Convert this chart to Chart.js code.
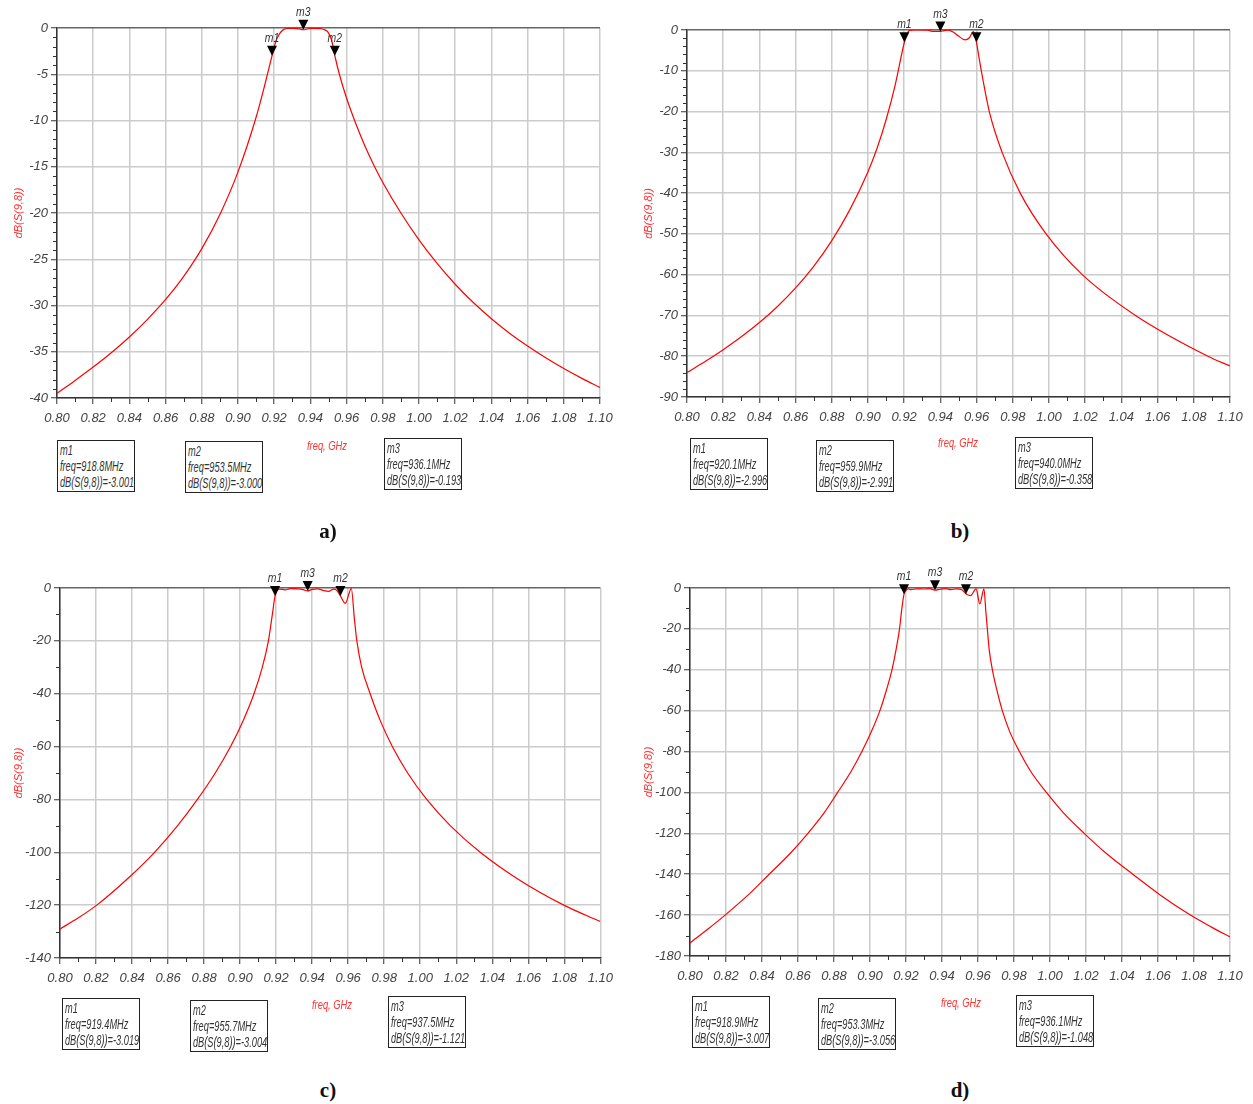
<!DOCTYPE html>
<html>
<head>
<meta charset="utf-8">
<script src="https://cdn.jsdelivr.net/npm/chart.js@4.4.1/dist/chart.umd.min.js"></script>
<style>
  body { margin: 0; background: #fff; }
  #page { position: relative; width: 1253px; height: 1104px; background: #fff; overflow: hidden; }
  canvas { position: absolute; }
  .box { position: absolute; border: 1px solid #222; box-sizing: border-box; width: 78px; height: 52px; overflow: hidden; }
  .box span { display: block; transform: scaleX(0.66); transform-origin: 0 0; padding: 1px 0 0 3px; white-space: nowrap;
              font: italic 14px 'Liberation Sans', Arial, sans-serif; line-height: 16px; color: #333; }
  .xlab { position: absolute; font: italic 13px 'Liberation Sans', Arial, sans-serif; color: #ff3030; white-space: nowrap;
          transform: translate(-50%, -50%) scaleX(0.72); }
  .cap { position: absolute; font: bold 21px 'Liberation Serif', 'Times New Roman', serif; color: #111; transform: translate(-50%, -50%); }
</style>
</head>
<body>
<div id="page">
  <canvas id="chA" width="620" height="440" style="left:0;top:0"></canvas>
  <canvas id="chB" width="620" height="440" style="left:630px;top:0"></canvas>
  <canvas id="chC" width="620" height="440" style="left:0;top:560px"></canvas>
  <canvas id="chD" width="620" height="440" style="left:630px;top:560px"></canvas>
</div>
<script>
// frequency axis (GHz)
const xMin = 0.80, xMax = 1.10, xStep = 0.02, xMinorStep = 0.01;

// a)
const freqA = [0.800, 0.810, 0.820, 0.830, 0.840, 0.850, 0.860, 0.870, 0.880, 0.890, 0.900, 0.910, 0.915, 0.9188, 0.921, 0.923, 0.925, 0.927, 0.931, 0.934, 0.936, 0.939, 0.942, 0.946, 0.948, 0.9497, 0.9517, 0.9535, 0.956, 0.960, 0.965, 0.970, 0.975, 0.980, 0.990, 1.000, 1.010, 1.020, 1.030, 1.040, 1.050, 1.060, 1.070, 1.080, 1.090, 1.100];
const dbA   = [-39.5, -38.1, -36.65, -35.1, -33.4, -31.5, -29.35, -26.85, -23.85, -20.15, -15.55, -9.65, -6.0, -3.0, -1.4, -0.6, -0.2, -0.05, -0.03, -0.1, -0.19, -0.08, -0.04, -0.08, -0.2, -0.45, -1.3, -3.0, -5.0, -7.6, -10.3, -12.7, -14.8, -16.7, -20.0, -22.9, -25.45, -27.7, -29.68, -31.43, -32.99, -34.39, -35.66, -36.82, -37.88, -38.86];
const yTicksA = { min: -40, max: 0, step: 5, minor: 1 };
const markerFreqA = [0.9188, 0.9535, 0.9361];
const markerDbA   = [-3.001, -3.000, -0.193];
const markerTextA = [['m1', 'freq=918.8MHz', 'dB(S(9,8))=-3.001'], ['m2', 'freq=953.5MHz', 'dB(S(9,8))=-3.000'], ['m3', 'freq=936.1MHz', 'dB(S(9,8))=-0.193']];

// b)
const freqB = [0.800, 0.810, 0.820, 0.830, 0.840, 0.850, 0.860, 0.870, 0.880, 0.890, 0.900, 0.905, 0.910, 0.915, 0.9201, 0.9215, 0.923, 0.926, 0.933, 0.936, 0.9402, 0.942, 0.9442, 0.947, 0.950, 0.9536, 0.956, 0.9582, 0.9599, 0.9615, 0.9635, 0.967, 0.9741, 0.9841, 0.9984, 1.0184, 1.0478, 1.0878, 1.100];
const dbB   = [-84.0, -81.3, -78.4, -75.25, -71.75, -67.8, -63.25, -57.95, -51.65, -44.05, -34.75, -29.0, -22.0, -13.5, -3.0, -1.0, -0.1, 0.0, -0.05, -0.35, -0.36, -0.15, -0.05, -0.5, -1.5, -2.4, -1.9, -0.4, -3.0, -7.2, -12.2, -20.0, -30.0, -40.0, -50.0, -60.0, -70.0, -80.0, -82.4];
const yTicksB = { min: -90, max: 0, step: 10, minor: 2 };
const markerFreqB = [0.9201, 0.9599, 0.9400];
const markerDbB   = [-2.996, -2.991, -0.358];
const markerTextB = [['m1', 'freq=920.1MHz', 'dB(S(9,8))=-2.996'], ['m2', 'freq=959.9MHz', 'dB(S(9,8))=-2.991'], ['m3', 'freq=940.0MHz', 'dB(S(9,8))=-0.358']];

// c)
const freqC = [0.800, 0.810, 0.8204, 0.8375, 0.8525, 0.8652, 0.8763, 0.8862, 0.8947, 0.9018, 0.9077, 0.9123, 0.9157, 0.9179, 0.9194, 0.9205, 0.922, 0.925, 0.928, 0.932, 0.935, 0.9375, 0.940, 0.943, 0.946, 0.949, 0.952, 0.9535, 0.9557, 0.9584, 0.9605, 0.9617, 0.9635, 0.9648, 0.9675, 0.9722, 0.9777, 0.9845, 0.993, 1.0036, 1.0168, 1.0333, 1.0539, 1.0797, 1.100];
const dbC   = [-129.0, -124.9, -120.0, -110.0, -100.0, -90.0, -80.0, -70.0, -60.0, -50.0, -40.0, -30.0, -20.0, -10.0, -3.0, -1.0, -0.4, -0.7, -0.2, -0.3, -0.6, -1.12, -0.5, -0.3, -0.9, -1.3, -0.4, -0.8, -3.0, -5.8, -2.0, -0.1, -12.0, -20.0, -30.0, -40.0, -50.0, -60.0, -70.0, -80.0, -90.0, -100.0, -110.0, -120.0, -126.2];
const yTicksC = { min: -140, max: 0, step: 20, minor: 10 };
const markerFreqC = [0.9194, 0.9557, 0.9375];
const markerDbC   = [-3.019, -3.004, -1.121];
const markerTextC = [['m1', 'freq=919.4MHz', 'dB(S(9,8))=-3.019'], ['m2', 'freq=955.7MHz', 'dB(S(9,8))=-3.004'], ['m3', 'freq=937.5MHz', 'dB(S(9,8))=-1.121']];

// d)
const freqD = [0.800, 0.810, 0.8195, 0.8325, 0.844, 0.8555, 0.8655, 0.8745, 0.882, 0.8893, 0.8955, 0.9009, 0.9055, 0.9091, 0.9122, 0.9145, 0.9164, 0.9177, 0.9189, 0.920, 0.9215, 0.9226, 0.926, 0.930, 0.933, 0.9361, 0.939, 0.942, 0.945, 0.948, 0.951, 0.9537, 0.9559, 0.9589, 0.961, 0.9633, 0.9644, 0.9652, 0.9662, 0.968, 0.9705, 0.9735, 0.9775, 0.983, 0.9895, 0.998, 1.0075, 1.019, 1.0315, 1.046, 1.061, 1.078, 1.090, 1.100];
const dbD   = [-173.6, -166.8, -160.0, -150.0, -140.0, -130.0, -120.0, -110.0, -100.0, -90.0, -80.0, -70.0, -60.0, -50.0, -40.0, -30.0, -20.0, -10.0, -3.0, -1.2, -0.4, -0.8, -0.4, -0.5, -0.3, -1.05, -0.6, -0.3, -0.8, -0.4, -0.9, -3.06, -3.7, -0.4, -7.8, -0.4, -12.0, -20.0, -30.0, -40.0, -50.0, -60.0, -70.0, -80.0, -90.0, -100.0, -110.0, -120.0, -130.0, -140.0, -150.0, -160.0, -166.0, -170.7];
const yTicksD = { min: -180, max: 0, step: 20, minor: 10 };
const markerFreqD = [0.9189, 0.9533, 0.9361];
const markerDbD   = [-3.007, -3.056, -1.048];
const markerTextD = [['m1', 'freq=918.9MHz', 'dB(S(9,8))=-3.007'], ['m2', 'freq=953.3MHz', 'dB(S(9,8))=-3.056'], ['m3', 'freq=936.1MHz', 'dB(S(9,8))=-1.048']];

const markerNames = ['m1', 'm2', 'm3'];
const FONT = "'Liberation Sans', Arial, sans-serif";

// minor ticks + marker triangles
const adsPlugin = {
  id: 'ads',
  afterDraw(chart, args, opts) {
    const { ctx, scales: { x, y } } = chart;
    ctx.save();
    ctx.strokeStyle = '#333';
    ctx.lineWidth = 1;
    for (let v = xMin + xMinorStep; v < xMax; v += xMinorStep * 2) {
      const px = Math.round(x.getPixelForValue(v)) + 0.5;
      ctx.beginPath(); ctx.moveTo(px, y.bottom); ctx.lineTo(px, y.bottom + 4); ctx.stroke();
    }
    for (let v = opts.yMin; v < opts.yMax; v += opts.yMinor) {
      if (Math.abs(v / opts.yStep - Math.round(v / opts.yStep)) < 1e-6) continue;
      const py = Math.round(y.getPixelForValue(v)) + 0.5;
      ctx.beginPath(); ctx.moveTo(x.left - 4, py); ctx.lineTo(x.left, py); ctx.stroke();
    }
    ctx.font = 'italic 13px ' + FONT;
    ctx.textAlign = 'center';
    ctx.textBaseline = 'bottom';
    opts.freq.forEach((f, i) => {
      const px = x.getPixelForValue(f), py = y.getPixelForValue(opts.db[i]);
      ctx.fillStyle = '#000';
      ctx.beginPath();
      ctx.moveTo(px, py); ctx.lineTo(px - 5, py - 10); ctx.lineTo(px + 5, py - 10); ctx.closePath();
      ctx.fill();
      ctx.fillStyle = '#333';
      ctx.save();
      ctx.translate(px, py - 11);
      ctx.scale(0.8, 1);
      ctx.fillText(markerNames[i], 0, 0);
      ctx.restore();
    });
    ctx.restore();
  }
};

function makeChart(id, freq, db, yt, mFreq, mDb, area) {
  new Chart(document.getElementById(id), {
    type: 'line',
    data: {
      datasets: [{
        data: freq.map((f, i) => ({ x: f, y: db[i] })),
        borderColor: '#ff0000',
        borderWidth: 1.2,
        pointRadius: 0,
        cubicInterpolationMode: 'monotone'
      }]
    },
    options: {
      responsive: false,
      animation: false,
      devicePixelRatio: 1,
      layout: { padding: { top: area.top, right: area.right, left: 0, bottom: 0 } },
      plugins: {
        legend: { display: false },
        tooltip: { enabled: false },
        ads: { freq: mFreq, db: mDb, yMin: yt.min, yMax: yt.max, yStep: yt.step, yMinor: yt.minor }
      },
      scales: {
        x: {
          type: 'linear', min: xMin, max: xMax,
          afterFit: s => { s.height = area.xh; },
          ticks: { stepSize: xStep, color: '#444', padding: 7, maxRotation: 0, autoSkip: false,
                   font: { family: FONT, size: 13, style: 'italic' },
                   callback: v => v.toFixed(2) },
          grid: { color: '#cccccc', lineWidth: 1.5, tickLength: 6, tickColor: '#333', tickWidth: 1 },
          border: { color: '#333', width: 1.5 }
        },
        y: {
          min: yt.min, max: yt.max,
          afterFit: s => { s.width = area.yw; },
          ticks: { stepSize: yt.step, color: '#444', padding: 3,
                   font: { family: FONT, size: 13, style: 'italic' },
                   callback: v => String(v) },
          grid: { color: c => (c.tick && c.tick.value === 0) ? '#666' : '#cccccc', lineWidth: 1.5,
                  tickLength: 6, tickColor: '#333', tickWidth: 1 },
          border: { color: '#333', width: 1.5 },
          title: { display: true, text: 'dB(S(9,8))', color: '#ff3030',
                   font: { family: FONT, size: 11, style: 'italic' }, padding: { top: 12, bottom: 0 } }
        }
      }
    },
    plugins: [adsPlugin]
  });
}

makeChart('chA', freqA, dbA, yTicksA, markerFreqA, markerDbA, { top: 28, right: 20, yw: 57, xh: 42 });
makeChart('chB', freqB, dbB, yTicksB, markerFreqB, markerDbB, { top: 30, right: 20, yw: 57, xh: 43 });
makeChart('chC', freqC, dbC, yTicksC, markerFreqC, markerDbC, { top: 28, right: 17, yw: 60, xh: 42 });
makeChart('chD', freqD, dbD, yTicksD, markerFreqD, markerDbD, { top: 28, right: 20, yw: 60, xh: 44 });

// marker readout boxes, x-axis labels, captions
const page = document.getElementById('page');
function addBoxes(texts, lefts, tops) {
  texts.forEach((lines, i) => {
    const d = document.createElement('div');
    d.className = 'box';
    d.style.left = lefts[i] + 'px';
    d.style.top = tops[i] + 'px';
    const s = document.createElement('span');
    s.innerHTML = lines.join('<br>');
    d.appendChild(s);
    page.appendChild(d);
  });
}
addBoxes(markerTextA, [57, 185, 384], [440, 441, 438]);
addBoxes(markerTextB, [690, 816, 1015], [438, 440, 437]);
addBoxes(markerTextC, [62, 190, 388], [998, 1000, 996]);
addBoxes(markerTextD, [692, 818, 1016], [996, 998, 995]);

function addText(cls, text, x, y) {
  const d = document.createElement('div');
  d.className = cls;
  d.style.left = x + 'px';
  d.style.top = y + 'px';
  d.textContent = text;
  page.appendChild(d);
}
addText('xlab', 'freq, GHz', 327, 445);
addText('xlab', 'freq, GHz', 958, 442);
addText('xlab', 'freq, GHz', 332, 1004);
addText('xlab', 'freq, GHz', 961, 1002);
addText('cap', 'a)', 328, 531);
addText('cap', 'b)', 960, 531);
addText('cap', 'c)', 328, 1090);
addText('cap', 'd)', 960, 1090);
</script>
</body>
</html>
